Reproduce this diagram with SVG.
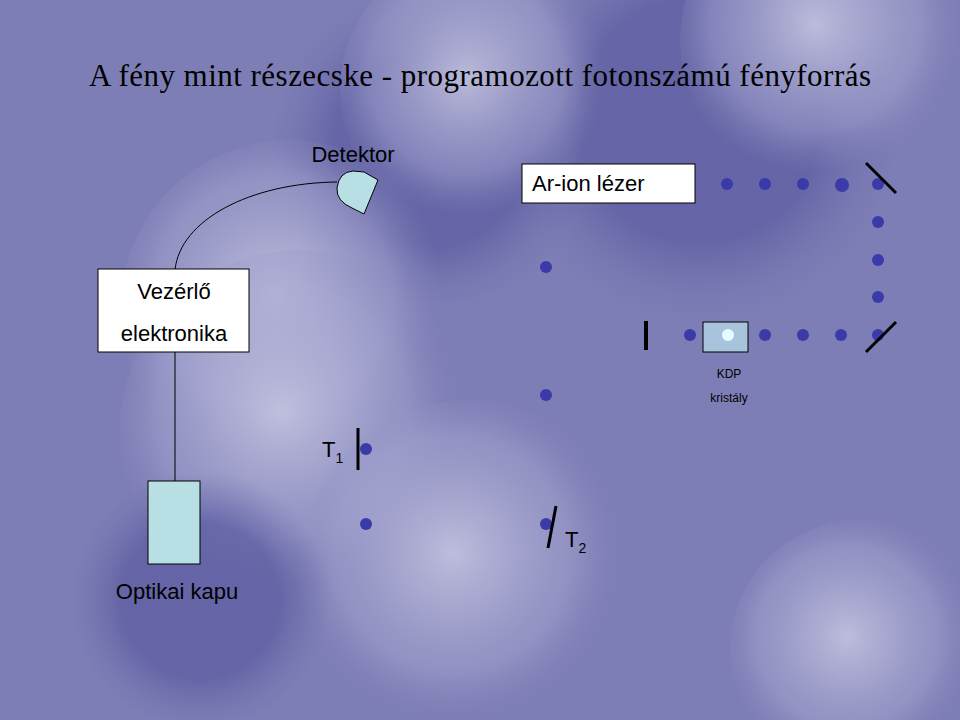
<svg xmlns="http://www.w3.org/2000/svg" width="960" height="720" viewBox="0 0 960 720">
<defs>
<radialGradient id="lt" cx="0.45" cy="0.45" r="0.5"><stop offset="0" stop-color="#c4c4e0" stop-opacity="0.9"/><stop offset="0.7" stop-color="#a4a4d0" stop-opacity="0.5"/><stop offset="1" stop-color="#8686bc" stop-opacity="0"/></radialGradient>
<radialGradient id="dk" cx="0.5" cy="0.5" r="0.5"><stop offset="0.6" stop-color="#5a5aa0" stop-opacity="0.7"/><stop offset="1" stop-color="#6a6aaa" stop-opacity="0"/></radialGradient>
<style>
.dot{fill:#3a3aa8}
.box{fill:#ffffff;stroke:#000;stroke-width:1}
.cy{fill:#b8e0e4;stroke:#000;stroke-width:1}
.t{font-family:"Liberation Sans",Arial,sans-serif;fill:#000}
.ln{stroke:#000;fill:none}
</style>
</defs>
<rect width="960" height="720" fill="#7e7eb6"/>
<circle cx="700" cy="120" r="200" fill="url(#dk)"/>
<circle cx="430" cy="150" r="160" fill="url(#dk)"/>
<circle cx="830" cy="40" r="150" fill="url(#lt)"/>
<circle cx="480" cy="90" r="140" fill="url(#lt)"/>
<circle cx="290" cy="310" r="170" fill="url(#lt)"/>
<circle cx="300" cy="430" r="180" fill="url(#lt)"/>
<circle cx="470" cy="570" r="170" fill="url(#lt)"/>
<circle cx="860" cy="650" r="130" fill="url(#lt)"/>
<circle cx="200" cy="600" r="130" fill="url(#dk)"/>
<text x="480" y="86" text-anchor="middle" font-family="Liberation Serif,serif" font-size="31" fill="#000" textLength="782">A fény mint részecske  - programozott fotonszámú fényforrás</text>
<g id="connectors">
<path class="ln" d="M175,270 C180,220 250,183 337,182"/>
<line class="ln" x1="175" y1="352" x2="175" y2="481"/>
</g>
<g id="detektor">
<text class="t" x="353" y="162" font-size="22" text-anchor="middle">Detektor</text>
<path class="cy" d="M378,180 L364,214 L352,208 Q336,201 337,188 Q339,172 353,171 L364,172 Z"/>
</g>
<g id="vezerlo">
<rect class="box" x="98" y="269" width="151" height="83"/>
<text class="t" x="174" y="299" font-size="22" text-anchor="middle">Vezérlő</text>
<text class="t" x="174" y="341" font-size="22" text-anchor="middle">elektronika</text>
</g>
<g id="kapu">
<rect class="cy" x="148" y="481" width="52" height="83"/>
<text class="t" x="177" y="599" font-size="22" text-anchor="middle">Optikai kapu</text>
</g>
<g id="laser">
<rect class="box" x="522" y="164" width="173" height="39"/>
<text class="t" x="532" y="191" font-size="22">Ar-ion lézer</text>
</g>
<g id="beam">
<circle class="dot" cx="727" cy="184" r="6"/><circle class="dot" cx="765" cy="184" r="6"/><circle class="dot" cx="803" cy="184" r="6"/><circle class="dot" cx="842" cy="185" r="7"/><circle class="dot" cx="878" cy="184" r="6"/>
<circle class="dot" cx="878" cy="222" r="6"/><circle class="dot" cx="878" cy="260" r="6"/><circle class="dot" cx="878" cy="297" r="6"/><circle class="dot" cx="878" cy="335" r="6"/>
<circle class="dot" cx="765" cy="335" r="6"/><circle class="dot" cx="803" cy="335" r="6"/><circle class="dot" cx="841" cy="335" r="6"/><circle class="dot" cx="690" cy="335" r="6"/>
<circle class="dot" cx="546" cy="267" r="6"/><circle class="dot" cx="546" cy="395" r="6"/>
<circle class="dot" cx="366" cy="449" r="6"/><circle class="dot" cx="366" cy="524" r="6"/><circle class="dot" cx="546" cy="524" r="6"/>
</g>
<g id="mirrors" stroke="#000" stroke-width="3">
<line x1="866" y1="163" x2="896" y2="193"/>
<line x1="866" y1="352" x2="896" y2="322"/>
<line x1="646" y1="321" x2="646" y2="350" stroke-width="4"/>
<line x1="358" y1="428" x2="358" y2="470"/>
<line x1="556" y1="506" x2="548" y2="548"/>
</g>
<g id="kdp">
<rect x="703" y="322" width="45" height="30" fill="#a8c4dc" stroke="#000"/>
<circle cx="728" cy="335" r="6" fill="#e4fbff"/>
<text class="t" x="729" y="378" font-size="12" text-anchor="middle">KDP</text>
<text class="t" x="729" y="402" font-size="12" text-anchor="middle">kristály</text>
</g>
<g id="t1"><text class="t" x="322" y="457" font-size="22">T<tspan font-size="14" dy="6">1</tspan></text></g>
<g id="t2"><text class="t" x="565" y="547" font-size="22">T<tspan font-size="14" dy="6">2</tspan></text></g>
</svg>
